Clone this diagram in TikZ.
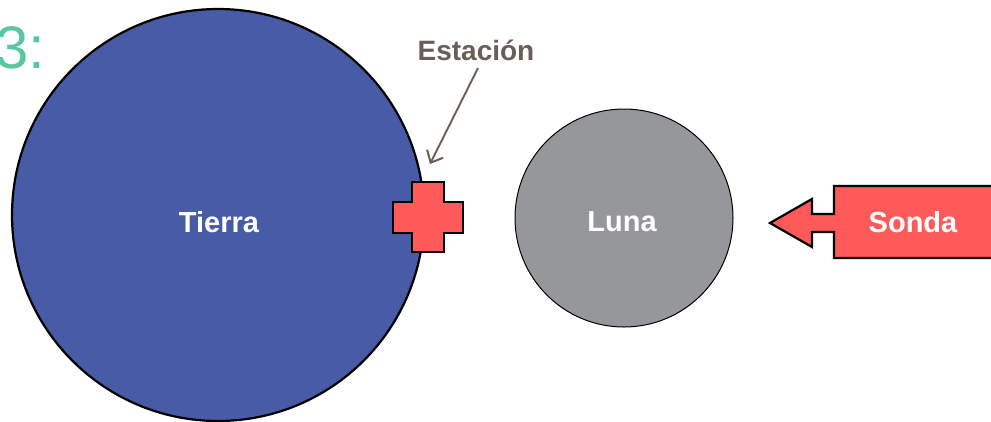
\documentclass[tikz,border=0pt]{standalone}
\usepackage{fontspec}
\setmainfont{Liberation Sans}
\usetikzlibrary{arrows.meta}
\definecolor{azultierra}{HTML}{485BA6}
\definecolor{grisluna}{HTML}{96979A}
\definecolor{rojo}{HTML}{FF5A5A}
\definecolor{cafe}{HTML}{6B5E58}
\definecolor{verde}{HTML}{5BC79E}
\tikzset{etiqueta/.style={text=white,font=\bfseries\fontsize{29}{31}\selectfont}}
\def\CRUZ#1#2{\draw [line width=2.2pt,fill=rojo] (#1-35,#2-15) -| (#1-16,#2-35) -| (#1+16,#2-15)
  -| (#1+35,#2+16) -| (#1+16,#2+35) -| (#1-16,#2+16) -| (#1-35,#2-15) -- cycle;}

\begin{document}
\begin{tikzpicture}[x=1pt,y=-1pt]
\clip (0,0) rectangle (991,421);
\node [circle,draw,line width=2.2pt,fill=azultierra,minimum size=412pt,inner sep=0pt] (tierra) at (218,215) {};
\node [etiqueta] at (219,222) {Tierra};
\node [circle,draw,line width=1pt,fill=grisluna,minimum size=218pt,inner sep=0pt] (luna) at (624,218) {};
\node [etiqueta] at (622,222) {Luna};
\CRUZ{428}{217}
\node [text=cafe,font=\bfseries\fontsize{28}{30}\selectfont] (estacion) at (476,50) {Estación};
\coordinate (inicio) at (478,68);
\coordinate (punta) at (430,164);
\draw [cafe,line width=2pt,-{Straight Barb[length=10pt,width=18pt]}] (inicio) -- (punta);
% sonda con flecha
\draw [line width=2.2pt,fill=rojo] (1000,186) -- (834,186) -- (834,214) -- (812,214) -- (812,199)
  -- (770,223) -- (812,247) -- (812,232) -- (834,232) -- (834,258) -- (1000,258);
\node [etiqueta] (sonda) at (913,222) {Sonda};
\node [text=verde,font=\fontsize{60}{60}\selectfont,anchor=west] (num) at (-8,48) {3:};
\end{tikzpicture}
\end{document}
